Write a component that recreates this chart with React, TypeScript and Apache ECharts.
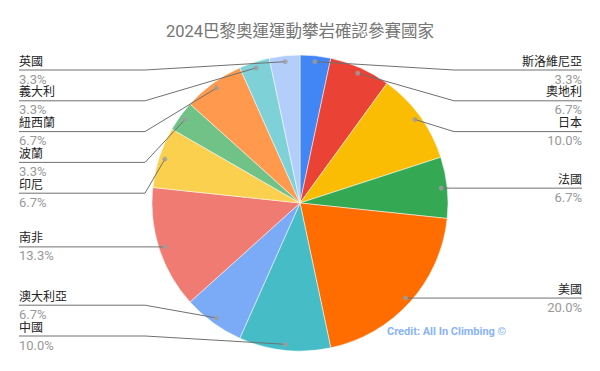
import React, { useEffect, useRef } from "react";
import * as echarts from "echarts";

const titleText = "2024巴黎奧運運動攀岩確認參賽國家";
const countries = ["斯洛維尼亞", "奧地利", "日本", "法國", "美國", "中國", "澳大利亞", "南非", "印尼", "波蘭", "紐西蘭", "義大利", "英國"];
const climbers = [1, 2, 3, 2, 6, 3, 2, 4, 2, 1, 2, 1, 1];
const sliceColors = ["#4285F4", "#EA4335", "#FBBC04", "#34A853", "#FF6D01", "#46BDC6", "#7BAAF7", "#F07B72", "#FCD04F", "#71C287", "#FF994D", "#7ED1D7", "#B3CEFB"];
const creditText = "Credit: All In Climbing ©";

const CX = 300;
const CY = 203;
const R = 148;
const DOT_R = 0.96;
const TOP_LIMIT = 70;
const BOTTOM_LIMIT = 336;
const GAP = 30.8;
const LEFT_EDGE = 19;
const RIGHT_EDGE = 582;
const LEFT_BEND = 145;
const RIGHT_BEND = 454;

const total = climbers.reduce((a, b) => a + b, 0);
const mids: number[] = [];
{
  let acc = 0;
  climbers.forEach((v) => {
    mids.push(acc + v / 2);
    acc += v;
  });
}

type Info = { dotX: number; dotY: number; side: "left" | "right"; labelY: number };
const infos: Info[] = mids.map((m) => {
  const a = (m / total) * Math.PI * 2;
  const dotX = CX + R * DOT_R * Math.sin(a);
  const dotY = CY - R * DOT_R * Math.cos(a);
  return { dotX, dotY, side: a < Math.PI ? "right" : "left", labelY: dotY };
});

(["left", "right"] as const).forEach((side) => {
  const idx = infos.map((_, i) => i).filter((i) => infos[i].side === side);
  idx.sort((a, b) => infos[a].dotY - infos[b].dotY);
  let prev = -Infinity;
  idx.forEach((i) => {
    const y = Math.max(infos[i].dotY, prev + GAP, TOP_LIMIT);
    infos[i].labelY = y;
    prev = y;
  });
  let next = Infinity;
  for (let k = idx.length - 1; k >= 0; k--) {
    const i = idx[k];
    const y = Math.min(infos[i].labelY, next - GAP, BOTTOM_LIMIT);
    infos[i].labelY = y;
    next = y;
  }
});

const FONT = "Roboto, 'Noto Sans CJK TC', sans-serif";

export default function App() {
  const ref = useRef<HTMLDivElement>(null);
  useEffect(() => {
    if (!ref.current) return;
    const chart = echarts.init(ref.current, undefined, { renderer: "svg" });
    chart.setOption({
      animation: false,
      backgroundColor: "#ffffff",
      title: {
        text: titleText,
        left: "center",
        top: 18,
        textStyle: { fontSize: 16.5, color: "#757575", fontWeight: "normal", fontFamily: FONT },
      },
      polar: { center: [CX, CY], radius: R },
      angleAxis: { type: "value", min: 0, max: total, startAngle: 90, clockwise: true, show: false },
      radiusAxis: { type: "value", min: 0, max: 1, show: false },
      series: [
        {
          type: "pie",
          center: [CX, CY],
          radius: R,
          startAngle: 90,
          clockwise: true,
          avoidLabelOverlap: false,
          itemStyle: { borderColor: "#ffffff", borderWidth: 0.5 },
          data: countries.map((n, i) => ({ name: n, value: climbers[i], itemStyle: { color: sliceColors[i] } })),
          label: {
            show: true,
            position: "outside",
            fontFamily: FONT,
            formatter: (p: any) => `{n|${p.name}}\n{p|${((p.value / total) * 100).toFixed(1)}%}`,
            rich: {
              n: { fontSize: 12, color: "#222222", lineHeight: 18, fontFamily: FONT },
              p: { fontSize: 13, color: "#999999", lineHeight: 17, fontFamily: FONT },
            },
          },
          labelLine: { show: false },
          labelLayout: (params: any) => {
            const info = infos[params.dataIndex];
            const right = info.side === "right";
            return {
              x: right ? RIGHT_EDGE : LEFT_EDGE,
              y: info.labelY,
              align: right ? "right" : "left",
              verticalAlign: "middle",
            };
          },
          emphasis: { disabled: true },
        },
        {
          type: "custom",
          coordinateSystem: "none",
          silent: true,
          z: 4,
          data: mids,
          renderItem: (params: any) => {
            const info = infos[params.dataIndex];
            const right = info.side === "right";
            const edge = right ? RIGHT_EDGE : LEFT_EDGE;
            const bend = right ? RIGHT_BEND : LEFT_BEND;
            return {
              type: "polyline",
              shape: {
                points: [
                  [info.dotX, info.dotY],
                  [bend, info.labelY],
                  [edge, info.labelY],
                ],
              },
              style: { stroke: "#707070", lineWidth: 1, fill: null },
            };
          },
        },
        {
          type: "scatter",
          coordinateSystem: "polar",
          symbol: "circle",
          symbolSize: 5,
          silent: true,
          itemStyle: { color: "#9e9e9e" },
          data: mids.map((m) => [DOT_R, m]),
          z: 5,
        },
      ],
      graphic: [
        {
          type: "text",
          left: 387,
          top: 326,
          style: { text: creditText, fill: "#8AB4F8", font: `bold 11px ${FONT}` },
        },
      ],
    });
    return () => chart.dispose();
  }, []);
  return <div ref={ref} style={{ position: "absolute", left: 0, top: 0, width: 600, height: 371 }} />;
}
